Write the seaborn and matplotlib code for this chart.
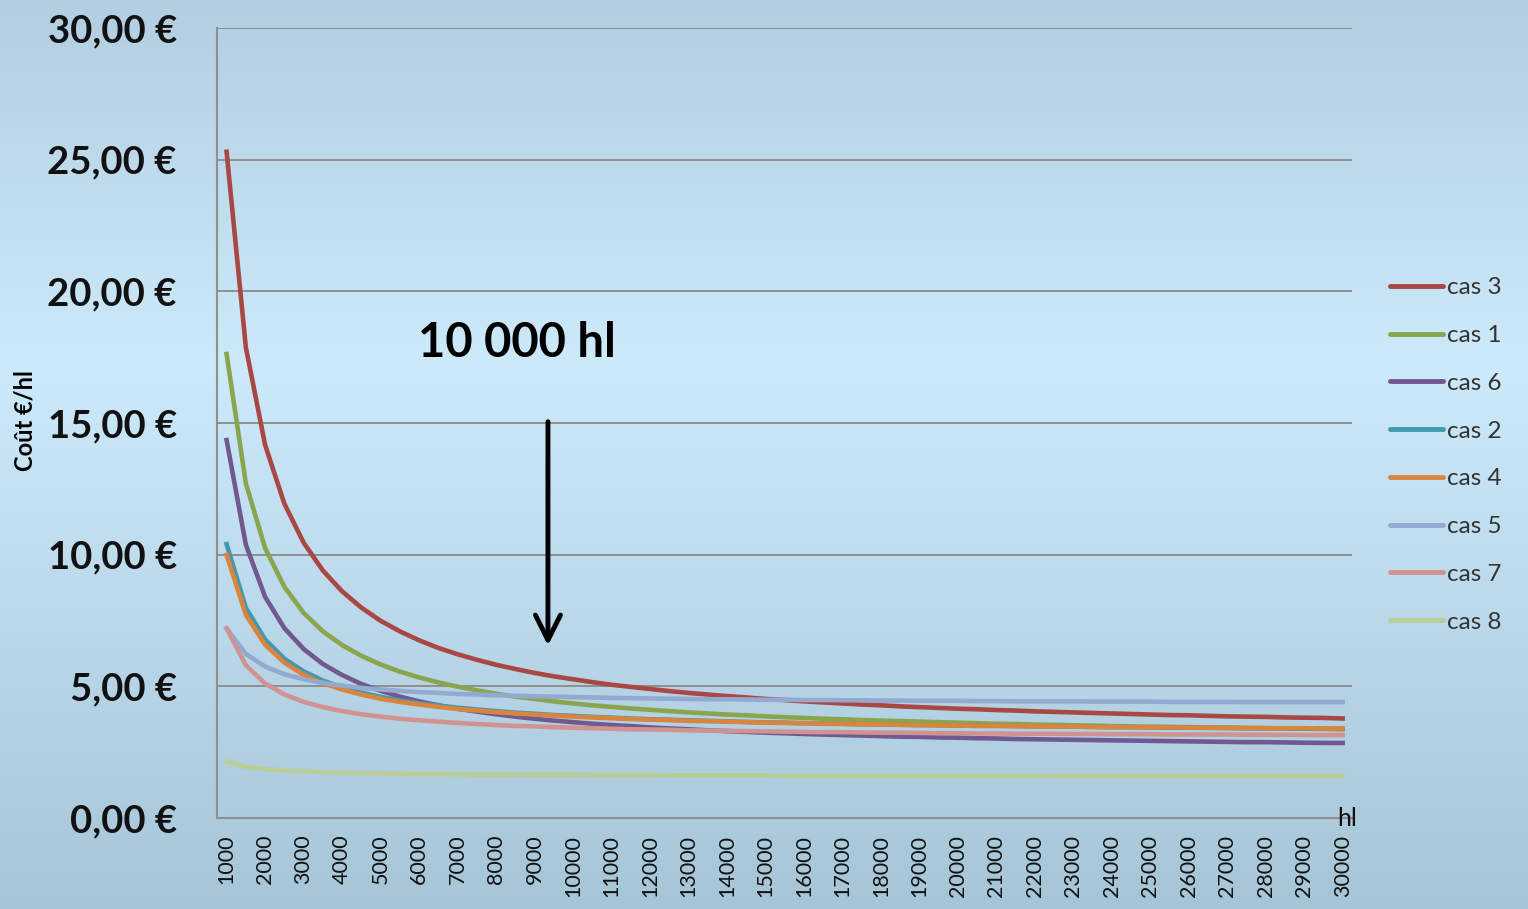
import numpy as np
import pandas as pd
import matplotlib
matplotlib.use('Agg')
import matplotlib.pyplot as plt
import seaborn as sns
from matplotlib.lines import Line2D

# volumes (hl), one point every 500 hl
volumes = list(range(1000, 30001, 500))

cas_3 = [25.30, 17.88, 14.17, 11.94, 10.46, 9.40, 8.61, 7.99, 7.49, 7.09, 6.75, 6.46, 6.22, 6.01, 5.82,
         5.66, 5.51, 5.38, 5.27, 5.16, 5.06, 4.98, 4.90, 4.82, 4.75, 4.69, 4.63, 4.58, 4.52, 4.48,
         4.43, 4.39, 4.35, 4.31, 4.28, 4.24, 4.21, 4.18, 4.15, 4.13, 4.10, 4.08, 4.05, 4.03, 4.01,
         3.99, 3.97, 3.95, 3.93, 3.91, 3.90, 3.88, 3.86, 3.85, 3.84, 3.82, 3.81, 3.80, 3.78]
cas_1 = [17.62, 12.71, 10.25, 8.78, 7.79, 7.09, 6.57, 6.16, 5.83, 5.56, 5.34, 5.15, 4.99, 4.85, 4.72,
         4.61, 4.52, 4.43, 4.35, 4.28, 4.22, 4.16, 4.11, 4.06, 4.01, 3.97, 3.93, 3.90, 3.86, 3.83,
         3.80, 3.77, 3.75, 3.72, 3.70, 3.68, 3.66, 3.64, 3.62, 3.60, 3.58, 3.57, 3.55, 3.54, 3.52,
         3.51, 3.49, 3.48, 3.47, 3.46, 3.45, 3.44, 3.43, 3.42, 3.41, 3.40, 3.39, 3.38, 3.37]
cas_6 = [14.35, 10.38, 8.40, 7.21, 6.42, 5.85, 5.43, 5.09, 4.83, 4.61, 4.43, 4.28, 4.15, 4.04, 3.94,
         3.85, 3.77, 3.70, 3.64, 3.58, 3.53, 3.49, 3.44, 3.40, 3.37, 3.33, 3.30, 3.27, 3.24, 3.22,
         3.19, 3.17, 3.15, 3.13, 3.11, 3.09, 3.08, 3.06, 3.05, 3.03, 3.02, 3.00, 2.99, 2.98, 2.97,
         2.96, 2.95, 2.94, 2.93, 2.92, 2.91, 2.90, 2.89, 2.88, 2.88, 2.87, 2.86, 2.85, 2.85]
cas_2 = [10.40, 7.98, 6.78, 6.05, 5.57, 5.22, 4.96, 4.76, 4.60, 4.47, 4.36, 4.27, 4.19, 4.12, 4.06,
         4.00, 3.96, 3.91, 3.88, 3.84, 3.81, 3.78, 3.75, 3.73, 3.71, 3.69, 3.67, 3.65, 3.63, 3.62,
         3.60, 3.59, 3.58, 3.56, 3.55, 3.54, 3.53, 3.52, 3.51, 3.50, 3.50, 3.49, 3.48, 3.47, 3.47,
         3.46, 3.45, 3.45, 3.44, 3.43, 3.43, 3.42, 3.42, 3.41, 3.41, 3.40, 3.40, 3.40, 3.39]
cas_4 = [9.99, 7.72, 6.58, 5.90, 5.44, 5.12, 4.88, 4.69, 4.53, 4.41, 4.31, 4.22, 4.14, 4.08, 4.02,
         3.97, 3.93, 3.89, 3.85, 3.82, 3.79, 3.76, 3.74, 3.72, 3.69, 3.68, 3.66, 3.64, 3.62, 3.61,
         3.60, 3.58, 3.57, 3.56, 3.55, 3.54, 3.53, 3.52, 3.51, 3.50, 3.50, 3.49, 3.48, 3.47, 3.47,
         3.46, 3.45, 3.45, 3.44, 3.44, 3.43, 3.43, 3.42, 3.42, 3.41, 3.41, 3.41, 3.40, 3.40]
cas_5 = [7.20, 6.23, 5.75, 5.46, 5.27, 5.13, 5.03, 4.94, 4.88, 4.83, 4.78, 4.75, 4.71, 4.69, 4.66,
         4.64, 4.62, 4.61, 4.59, 4.58, 4.56, 4.55, 4.54, 4.53, 4.52, 4.51, 4.51, 4.50, 4.49, 4.49,
         4.48, 4.48, 4.47, 4.47, 4.46, 4.46, 4.45, 4.45, 4.45, 4.44, 4.44, 4.43, 4.43, 4.43, 4.43,
         4.42, 4.42, 4.42, 4.42, 4.41, 4.41, 4.41, 4.41, 4.40, 4.40, 4.40, 4.40, 4.40, 4.40]
cas_7 = [7.20, 5.80, 5.11, 4.69, 4.41, 4.21, 4.06, 3.94, 3.85, 3.77, 3.71, 3.66, 3.61, 3.57, 3.53,
         3.50, 3.48, 3.45, 3.43, 3.41, 3.39, 3.37, 3.36, 3.35, 3.33, 3.32, 3.31, 3.30, 3.29, 3.28,
         3.27, 3.26, 3.26, 3.25, 3.24, 3.24, 3.23, 3.22, 3.22, 3.21, 3.21, 3.20, 3.20, 3.20, 3.19,
         3.19, 3.18, 3.18, 3.18, 3.17, 3.17, 3.17, 3.17, 3.16, 3.16, 3.16, 3.15, 3.15, 3.15]
cas_8 = [2.14, 1.95, 1.86, 1.80, 1.77, 1.74, 1.72, 1.70, 1.69, 1.68, 1.67, 1.67, 1.66, 1.65, 1.65,
         1.65, 1.64, 1.64, 1.64, 1.63, 1.63, 1.63, 1.63, 1.62, 1.62, 1.62, 1.62, 1.62, 1.62, 1.61,
         1.61, 1.61, 1.61, 1.61, 1.61, 1.61, 1.61, 1.61, 1.61, 1.61, 1.61, 1.61, 1.61, 1.60, 1.60,
         1.60, 1.60, 1.60, 1.60, 1.60, 1.60, 1.60, 1.60, 1.60, 1.60, 1.60, 1.60, 1.60, 1.60]

series_names = ['cas 3', 'cas 1', 'cas 6', 'cas 2', 'cas 4', 'cas 5', 'cas 7', 'cas 8']
series_values = [cas_3, cas_1, cas_6, cas_2, cas_4, cas_5, cas_7, cas_8]
colors = ['#AA4643', '#89A54E', '#71588F', '#4198AF', '#DB843D', '#93A9CF', '#D19392', '#B9CD96']

x_ticks = list(range(1000, 30001, 1000))
y_ticks = [0, 5, 10, 15, 20, 25, 30]

rows = []
for name, vals in zip(series_names, series_values):
    for v, c in zip(volumes, vals):
        rows.append({'Volume': v, 'Coût': c, 'Série': name})
df = pd.DataFrame(rows)

plt.rcParams['font.family'] = ['Lato', 'DejaVu Sans']

fig = plt.figure(figsize=(15.28, 9.09), dpi=100)

# background gradient
bg = fig.add_axes([0, 0, 1, 1], zorder=-1)
stops = np.array([0.0, 0.4, 1.0])
cols = np.array([[178, 206, 224], [204, 234, 250], [166, 197, 215]]) / 255
t = np.linspace(0, 1, 400)
grad = np.stack([np.interp(t, stops, cols[:, i]) for i in range(3)], axis=1)
bg.imshow(grad[:, None, :], aspect='auto', extent=[0, 1, 0, 1])
bg.axis('off')

ax = fig.add_axes([0.142, 0.1001, 0.743, 0.8691])
ax.set_facecolor('none')

sns.lineplot(data=df, x='Volume', y='Coût', hue='Série', hue_order=series_names,
             palette=colors, linewidth=3.3, ax=ax, legend=False, zorder=3)

ax.set_xlim(750, 30250)
ax.set_ylim(0, 30)
ax.set_xticks(x_ticks)
ax.set_xticklabels([str(v) for v in x_ticks], rotation=90, fontsize=15.5, color='#111111')
ax.set_yticks(y_ticks)
ax.set_yticklabels([f'{v},00 €' for v in y_ticks], fontsize=27.5, fontweight='bold', color='#111111')
ax.tick_params(axis='x', length=0, pad=12)
ax.tick_params(axis='y', length=0, pad=29)
ax.set_xlabel('')
ax.set_ylabel('')
ax.grid(axis='y', color='#8f8f8f', linewidth=1.4)
ax.grid(axis='x', visible=False)
ax.set_axisbelow(True)
for side in ['top', 'right']:
    ax.spines[side].set_visible(False)
for side in ['left', 'bottom']:
    ax.spines[side].set_color('#8f8f8f')
    ax.spines[side].set_linewidth(1.5)

ax.text(0.9956, 0.0, 'hl', transform=ax.transAxes, ha='center', va='center', fontsize=18, color='#111111')
fig.text(0.0165, 0.537, 'Coût €/hl', rotation=90, ha='center', va='center', fontsize=17, fontweight='bold')
fig.text(517 / 1528, 1 - 343 / 909, '10 000 hl', ha='center', va='center', fontsize=34, fontweight='bold')

ax.annotate('', xy=(9350, 6.55), xytext=(9350, 15.05),
            arrowprops=dict(arrowstyle='->,head_length=0.9,head_width=0.45', color='black', lw=3.5,
                            mutation_scale=20, shrinkA=0, shrinkB=0))

handles = [Line2D([0], [0], color=c, lw=3.5, solid_capstyle='round') for c in colors]
fig.legend(handles, series_names, loc='center left', bbox_to_anchor=(1390 / 1528, 1 - 455 / 909),
           frameon=False, fontsize=17.5, handlelength=2.2, handletextpad=0.15, labelspacing=1.1,
           borderpad=0, borderaxespad=0, labelcolor='#333333')

fig.savefig('out.png', dpi=100)
